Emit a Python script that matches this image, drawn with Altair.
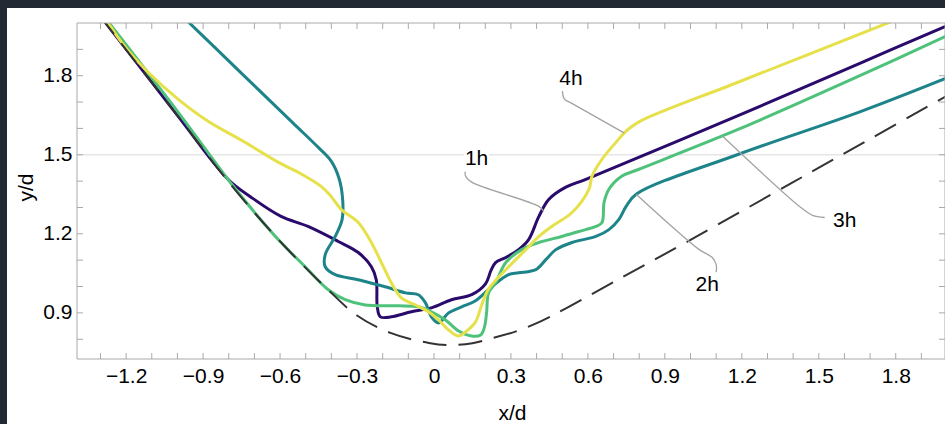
import altair as alt
import pandas as pd

# ---------------- data ----------------
x_ref = [-1.305, -1.0, -0.784, -0.581, -0.413, -0.30, -0.17, -0.02, 0.06, 0.15, 0.23, 0.32, 0.42, 0.52, 0.70, 1.00, 1.40, 1.70, 2.00]
y_ref = [2.03, 1.649, 1.377, 1.152, 0.988, 0.89, 0.824, 0.786, 0.778, 0.785, 0.805, 0.83, 0.87, 0.92, 1.017, 1.177, 1.396, 1.56, 1.724]

x_1h = [-1.303, -1.0, -0.803, -0.713, -0.596, -0.491, -0.373, -0.295, -0.244, -0.225, -0.221, -0.209, -0.166, -0.088, -0.010, 0.068, 0.147, 0.201, 0.222, 0.240, 0.280, 0.330, 0.369, 0.409, 0.448, 0.514, 0.592, 1.190, 1.660, 2.00]
y_1h = [2.03, 1.65, 1.407, 1.339, 1.266, 1.228, 1.171, 1.129, 1.075, 1.026, 0.923, 0.885, 0.885, 0.904, 0.919, 0.950, 0.969, 1.010, 1.060, 1.091, 1.110, 1.140, 1.178, 1.266, 1.331, 1.377, 1.407, 1.650, 1.847, 1.990]

x_2h = [-0.985, -0.750, -0.550, -0.450, -0.400, -0.370, -0.356, -0.358, -0.385, -0.424, -0.424, -0.385, -0.295, -0.190, -0.111, -0.061, -0.033, -0.010, 0.018, 0.057, 0.108, 0.162, 0.225, 0.291, 0.330, 0.397, 0.436, 0.475, 0.538, 0.631, 0.682, 0.721, 0.749, 0.788, 1.190, 1.660, 2.00]
y_2h = [2.03, 1.809, 1.621, 1.527, 1.475, 1.410, 1.331, 1.255, 1.190, 1.121, 1.075, 1.045, 1.026, 0.999, 0.976, 0.969, 0.938, 0.885, 0.862, 0.900, 0.923, 0.946, 0.999, 1.045, 1.052, 1.064, 1.102, 1.140, 1.167, 1.190, 1.216, 1.255, 1.304, 1.350, 1.503, 1.663, 1.792]

x_3h = [-1.29, -1.0, -0.79, -0.686, -0.596, -0.502, -0.412, -0.346, -0.268, -0.139, -0.061, -0.010, 0.045, 0.096, 0.147, 0.182, 0.197, 0.205, 0.213, 0.240, 0.280, 0.342, 0.409, 0.498, 0.565, 0.631, 0.655, 0.663, 0.682, 0.733, 0.799, 1.190, 1.660, 2.00]
y_3h = [2.03, 1.665, 1.39, 1.266, 1.167, 1.075, 0.988, 0.950, 0.930, 0.927, 0.923, 0.904, 0.873, 0.831, 0.812, 0.816, 0.847, 0.900, 0.976, 1.014, 1.091, 1.140, 1.167, 1.190, 1.209, 1.228, 1.243, 1.319, 1.369, 1.419, 1.445, 1.598, 1.800, 1.952]

x_4h = [-1.29, -1.214, -1.116, -0.999, -0.882, -0.745, -0.608, -0.530, -0.440, -0.401, -0.362, -0.295, -0.244, -0.205, -0.166, -0.127, -0.072, -0.022, 0.018, 0.057, 0.096, 0.127, 0.162, 0.186, 0.213, 0.280, 0.358, 0.409, 0.459, 0.538, 0.604, 0.616, 0.655, 0.710, 0.749, 0.799, 1.190, 1.800]
y_4h = [2.03, 1.922, 1.815, 1.712, 1.628, 1.552, 1.472, 1.434, 1.380, 1.342, 1.293, 1.243, 1.167, 1.091, 1.014, 0.957, 0.930, 0.904, 0.873, 0.835, 0.812, 0.831, 0.866, 0.930, 0.991, 1.064, 1.140, 1.190, 1.228, 1.281, 1.369, 1.419, 1.483, 1.548, 1.590, 1.625, 1.777, 2.012]

series_names = ["1h", "2h", "3h", "4h"]
series_colors = ["#2a0b6c", "#1d8489", "#4ec27b", "#e6e14a"]

# callout labels and leader lines
label_text = ["4h", "1h", "2h", "3h"]
label_x = [0.534, 0.166, 1.065, 1.601]
label_y = [1.789, 1.483, 1.007, 1.247]

leader_4h_x = [0.500, 0.508, 0.534, 0.741]
leader_4h_y = [1.750, 1.712, 1.697, 1.583]
leader_1h_x = [0.123, 0.123, 0.147, 0.409, 0.428]
leader_1h_y = [1.445, 1.419, 1.396, 1.304, 1.285]
leader_2h_x = [0.788, 1.034, 1.085, 1.100, 1.100]
leader_2h_y = [1.350, 1.140, 1.110, 1.083, 1.052]
leader_3h_x = [1.124, 1.425, 1.476, 1.523]
leader_3h_y = [1.571, 1.304, 1.270, 1.262]

x_tick_labels = [-1.2, -0.9, -0.6, -0.3, 0.0, 0.3, 0.6, 0.9, 1.2, 1.5, 1.8]
y_tick_labels = [0.9, 1.2, 1.5, 1.8]
x_minor = [-1.3, -1.2, -1.1, -1.0, -0.9, -0.8, -0.7, -0.6, -0.5, -0.4, -0.3, -0.2, -0.1, 0.0,
           0.1, 0.2, 0.3, 0.4, 0.5, 0.6, 0.7, 0.8, 0.9, 1.0, 1.1, 1.2, 1.3, 1.4, 1.5, 1.6, 1.7, 1.8, 1.9]
y_minor = [0.8, 0.9, 1.0, 1.1, 1.2, 1.3, 1.4, 1.5, 1.6, 1.7, 1.8, 1.9]
grid_y = [1.5]

# ---------------- tables ----------------
rows = []
for name, xs_, ys_ in zip(series_names, [x_1h, x_2h, x_3h, x_4h], [y_1h, y_2h, y_3h, y_4h]):
    for i, (a, b) in enumerate(zip(xs_, ys_)):
        rows.append({"s": name, "x": a, "y": b, "i": i})
df_lines = pd.DataFrame(rows)
df_ref = pd.DataFrame({"x": x_ref, "y": y_ref, "i": list(range(len(x_ref)))})

lrows = []
for name, xs_, ys_ in zip(["4h", "1h", "2h", "3h"],
                          [leader_4h_x, leader_1h_x, leader_2h_x, leader_3h_x],
                          [leader_4h_y, leader_1h_y, leader_2h_y, leader_3h_y]):
    for i, (a, b) in enumerate(zip(xs_, ys_)):
        lrows.append({"s": name, "x": a, "y": b, "i": i})
df_leaders = pd.DataFrame(lrows)
df_labels = pd.DataFrame({"t": label_text, "x": label_x, "y": label_y})
df_xt = pd.DataFrame({"x": x_minor})
df_yt = pd.DataFrame({"y": y_minor})
df_grid = pd.DataFrame({"y": grid_y})

# ---------------- layout ----------------
W, H = 868, 336
FONT = "Liberation Sans"
FS = 21
xs = alt.Scale(domain=[-1.3915, 1.992], nice=False, zero=False)
ys = alt.Scale(domain=[0.725, 2.0], nice=False, zero=False)

xaxis = alt.Axis(values=x_tick_labels, domain=False, ticks=False, grid=False, zindex=2,
                 labelFontSize=FS, labelFont=FONT, labelColor="#000000", labelPadding=6,
                 labelFlush=False, labelOverlap=False,
                 labelExpr="datum.value == 0 ? '0' : replace(format(datum.value, '.1f'), '-', '\u2212')",
                 title="x/d", titleFont=FONT, titleFontSize=FS, titleFontWeight="normal",
                 titleColor="#000000", titleX=435, titleY=60, titleAlign="center",
                 titleBaseline="alphabetic")
yaxis = alt.Axis(values=y_tick_labels, domain=False, ticks=False, grid=False, zindex=2,
                 labelFontSize=FS, labelFont=FONT, labelColor="#000000", labelPadding=5,
                 format=".1f", labelOverlap=False,
                 title="y/d", titleFont=FONT, titleFontSize=FS, titleFontWeight="normal",
                 titleColor="#000000", titleAngle=270, titleX=-51, titleY=164,
                 titleAlign="center", titleBaseline="middle")

X = alt.X("x:Q", scale=xs, axis=xaxis)
Y = alt.Y("y:Q", scale=ys, axis=yaxis)

dummy = alt.Data(values=[{}])

bg = alt.Chart(dummy).mark_rect(color="white", clip=False).encode(
    x=alt.value(-70), x2=alt.value(W + 20), y=alt.value(-15), y2=alt.value(H + 90))

grid = alt.Chart(df_grid).mark_rule(color="#e6e6e6", strokeWidth=1.5).encode(y=Y)

frame = alt.Chart(dummy).mark_rect(filled=False, stroke="#a9a9a9", strokeWidth=1).encode(
    x=alt.value(0), x2=alt.value(W), y=alt.value(0), y2=alt.value(H))

tick_c = "#a9a9a9"
tb = alt.Chart(df_xt).mark_rule(color=tick_c, strokeWidth=1).encode(x=X, y=alt.value(H - 6), y2=alt.value(H))
tt = alt.Chart(df_xt).mark_rule(color=tick_c, strokeWidth=1).encode(x=X, y=alt.value(0), y2=alt.value(6))
tl = alt.Chart(df_yt).mark_rule(color=tick_c, strokeWidth=1).encode(y=Y, x=alt.value(0), x2=alt.value(6))
tr = alt.Chart(df_yt).mark_rule(color=tick_c, strokeWidth=1).encode(y=Y, x=alt.value(W - 6), x2=alt.value(W))

lines = alt.Chart(df_lines).mark_line(strokeWidth=3, interpolate="catmull-rom", clip=True).encode(
    x=X, y=Y, order="i:Q",
    color=alt.Color("s:N", scale=alt.Scale(domain=series_names, range=series_colors), legend=None))

ref = alt.Chart(df_ref).mark_line(strokeWidth=2, color="#333333", strokeDash=[24, 12],
                                  interpolate="catmull-rom", clip=True).encode(x=X, y=Y, order="i:Q")

leaders = alt.Chart(df_leaders).mark_line(strokeWidth=1.3, color="#a3a3a3",
                                          interpolate="catmull-rom").encode(
    x=X, y=Y, order="i:Q", detail="s:N")

label_bg = alt.Chart(df_labels).mark_square(size=620, color="white", opacity=1).encode(x=X, y=Y)
labels = alt.Chart(df_labels).mark_text(fontSize=FS, font=FONT, color="#000000",
                                        align="center", baseline="middle").encode(x=X, y=Y, text="t:N")

chart = alt.layer(bg, grid, lines, ref, leaders, label_bg, labels, frame, tb, tt, tl, tr).properties(
    width=W, height=H,
    autosize=alt.AutoSizeParams(type="none"),
    padding={"left": 77, "top": 23, "right": 0, "bottom": 65},
    background="#222933",
).configure_view(strokeWidth=0)

chart.save("out.html", embed_options={"renderer": "svg", "actions": False})
